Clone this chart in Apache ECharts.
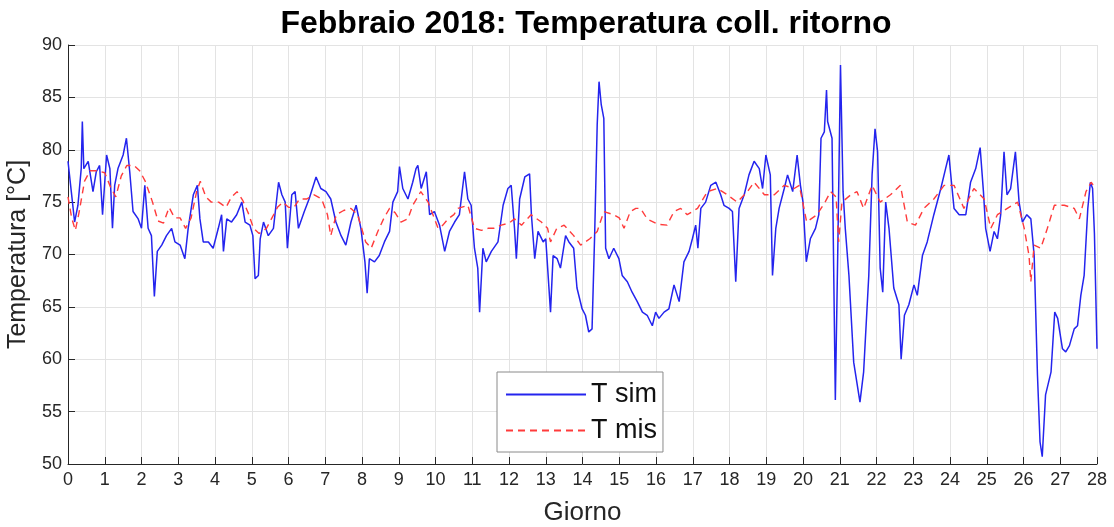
<!DOCTYPE html>
<html>
<head>
<meta charset="utf-8">
<script src="https://cdn.jsdelivr.net/npm/echarts@6/dist/echarts.min.js"></script>
<style>
html,body{margin:0;padding:0;background:#fff;}
#chart{width:1114px;height:527px;}
</style>
</head>
<body>
<div id="chart"></div>
<script>
// T sim (blue solid)
const simDay = [0,0.09,0.18,0.27,0.36,0.39,0.43,0.55,0.68,0.77,0.86,0.94,1.05,1.14,1.21,1.27,1.36,1.5,1.59,1.68,1.77,1.91,2.0,2.09,2.18,2.27,2.35,2.43,2.55,2.68,2.82,2.91,3.05,3.18,3.27,3.41,3.52,3.59,3.68,3.82,3.95,4.09,4.18,4.23,4.32,4.45,4.59,4.73,4.82,4.95,5.03,5.09,5.18,5.23,5.32,5.45,5.59,5.73,5.82,5.91,5.97,6.09,6.18,6.27,6.43,6.56,6.75,6.88,7.02,7.15,7.29,7.43,7.56,7.7,7.84,7.97,8.08,8.14,8.2,8.34,8.47,8.61,8.75,8.84,8.97,9.02,9.11,9.25,9.38,9.47,9.52,9.61,9.75,9.84,9.97,10.11,10.25,10.38,10.52,10.65,10.79,10.88,10.97,11.06,11.15,11.2,11.29,11.38,11.52,11.7,11.84,11.97,12.06,12.15,12.2,12.29,12.43,12.56,12.61,12.7,12.79,12.93,13.0,13.13,13.2,13.31,13.4,13.54,13.63,13.76,13.85,13.99,14.08,14.17,14.26,14.33,14.4,14.45,14.51,14.58,14.63,14.72,14.85,14.99,15.08,15.22,15.35,15.49,15.63,15.76,15.9,15.99,16.08,16.22,16.35,16.49,16.63,16.76,16.9,16.99,17.08,17.14,17.22,17.35,17.49,17.63,17.76,17.85,17.99,18.08,18.17,18.26,18.4,18.53,18.67,18.81,18.9,18.99,19.11,19.17,19.26,19.35,19.49,19.58,19.72,19.84,19.93,20.0,20.09,20.2,20.34,20.43,20.49,20.58,20.64,20.67,20.79,20.88,20.95,21.02,21.09,21.15,21.25,21.38,21.55,21.65,21.79,21.88,21.96,22.03,22.1,22.17,22.25,22.34,22.47,22.61,22.67,22.76,22.88,23.02,23.11,23.25,23.38,23.56,23.75,23.88,23.97,24.04,24.11,24.25,24.43,24.56,24.7,24.82,24.91,24.97,25.09,25.2,25.29,25.38,25.47,25.55,25.65,25.78,25.88,25.97,26.09,26.2,26.29,26.38,26.45,26.51,26.6,26.75,26.85,26.93,27.06,27.15,27.25,27.38,27.47,27.56,27.65,27.75,27.82,27.88,27.93,28.0];
const simTemp = [78.9,76,73.1,74.7,78.2,82.7,78.2,78.9,76,77.9,78.5,73.8,79.5,78.2,72.5,76.6,78.2,79.5,81.1,77.9,74.1,73.4,72.5,76.6,72.5,71.8,66,70.3,70.9,71.8,72.5,71.2,70.9,69.6,72.5,75.7,76.6,73.4,71.2,71.2,70.6,72.5,73.8,70.3,73.4,73.1,73.8,75,73.1,72.8,71.8,67.7,68,71.5,73.1,71.8,72.5,76.9,75.7,75,70.6,75.7,76,72.5,74.1,75.3,77.4,76.3,76,75.3,73.1,71.8,70.9,73.1,74.7,72.5,69.3,66.3,69.6,69.3,69.9,71.2,72.2,75,76,78.4,76.3,75.3,76.9,78.2,78.5,76.3,77.9,73.8,74.1,72.8,70.3,72.2,73.1,73.8,77.9,75.3,74.7,70.6,68.7,64.5,70.6,69.3,70.3,71.2,74.7,76.3,76.6,72.5,69.6,75.3,77.4,77.7,73.8,69.6,72.2,71.2,71.5,64.5,69.9,69.6,68.7,71.8,71.2,70.6,66.8,64.8,64.2,62.6,62.9,71.8,82.4,86.5,84.3,83,70.6,69.6,70.6,69.6,68,67.4,66.4,65.5,64.5,64.2,63.2,64.5,63.9,64.5,64.8,67.1,65.5,69.3,70.3,71.5,72.8,70.6,74.4,75,76.6,76.9,75.7,74.7,74.4,74.1,67.4,74.4,75.7,77.6,78.9,78.2,76.3,79.5,77.6,68,72.5,74.4,76.3,77.6,76,79.5,76.6,75,69.3,71.5,72.5,73.8,81.1,81.7,85.7,82.7,81.1,56.1,71.2,88.1,76,72.5,68,59.7,55.9,58.8,68,77.6,82,79.8,68.7,66.4,75,72.5,66.8,65.2,60,64.2,65.2,67.1,66.1,69.9,71.2,73.8,76.3,78.2,79.5,76.9,74.4,73.8,73.8,76.9,78.2,80.2,76,72.5,70.3,72.2,71.5,73.8,79.8,75.7,76.3,79.8,75,73.1,73.8,73.4,69.9,58.5,52.1,50.7,56.6,58.8,64.5,63.9,61,60.7,61.3,62.9,63.2,66.1,68,74.4,76.9,76.3,72,61];

// T mis (red dashed)
const misDay = [0,0.1,0.2,0.3,0.45,0.6,0.8,1.0,1.15,1.3,1.45,1.6,1.8,1.95,2.1,2.3,2.45,2.6,2.75,2.9,3.05,3.2,3.35,3.5,3.6,3.75,3.9,4.1,4.3,4.45,4.6,4.75,4.9,5.05,5.2,5.4,5.55,5.7,5.85,6.0,6.15,6.3,6.5,6.7,6.9,7.06,7.15,7.3,7.5,7.7,7.88,8.1,8.25,8.43,8.6,8.75,8.9,9.06,9.25,9.38,9.6,9.8,10.07,10.2,10.34,10.5,10.61,10.88,11.06,11.25,11.43,11.6,11.79,12.0,12.15,12.34,12.6,12.88,13.05,13.13,13.3,13.5,13.76,13.95,14.2,14.4,14.58,14.85,15.0,15.13,15.3,15.45,15.58,15.76,16.04,16.3,16.49,16.67,16.85,17.13,17.4,17.67,17.94,18.21,18.49,18.67,18.95,19.22,19.49,19.76,19.9,20.1,20.38,20.6,20.75,20.9,20.97,21.06,21.3,21.47,21.65,21.88,22.1,22.38,22.65,22.84,23.06,23.29,23.56,23.84,24.11,24.38,24.65,24.93,25.11,25.29,25.56,25.84,26.02,26.15,26.2,26.29,26.47,26.65,26.84,27.11,27.38,27.52,27.7,27.84,27.97];
const misTemp = [75.5,73.5,72.3,74,77,78,78,77.8,76.5,75.5,77.5,78.5,78.5,78,77,75,73.2,73,74.5,73.5,73.5,72.5,73.5,76,77,75.5,75,75,74.5,75.5,76,75.2,74,72.5,72,72.5,73.5,74.5,75,74.5,74.5,75.3,75.3,75.7,75.3,73.8,71.8,73.8,74.2,74.4,73.8,71.2,70.6,72.2,73.5,74.4,74,73.1,73.4,74.7,76,75,72.5,72.8,73.4,73.8,74.4,74.7,72.5,72.3,72.5,72.5,72.8,73,73.4,72.8,73.8,73.1,72.5,71.2,72.5,72.8,71.8,70.9,71.5,72.2,74.1,73.8,73.5,72.5,74.1,74.4,74.4,73.4,72.9,72.8,74.1,74.4,73.8,74.4,76,76.3,75.7,75,76,76.9,75.7,75.7,76.6,76.3,76.6,73.1,73.8,75,76,75.5,71.2,75,75.7,76,74.4,76.6,75,75.7,76.6,73.1,72.8,74.4,75.3,76.6,76.6,74.4,76.3,75.3,72.5,73.8,74.4,75,72.5,69.9,67.4,70.9,70.6,72.5,74.7,74.7,74.4,73.4,76,76.9,76.3];

const xTicks = {min: 0, max: 28, step: 1};
const yTicks = {min: 50, max: 90, step: 5};

const simData = simDay.map((d, i) => [d, simTemp[i]]);
const misData = misDay.map((d, i) => [d, misTemp[i]]);

const FONT = '"Liberation Sans", Arial, Helvetica, sans-serif';
const chart = echarts.init(document.getElementById('chart'), null, {renderer: 'canvas'});
chart.setOption({
  animation: false,
  backgroundColor: '#ffffff',
  title: {
    text: 'Febbraio 2018: Temperatura coll. ritorno',
    left: 581, textAlign: 'center', top: 3,
    textStyle: {fontFamily: FONT, fontSize: 32, fontWeight: 'bold', color: '#000'}
  },
  grid: {left: 68, right: 17, top: 45, bottom: 63, containLabel: false, outerBoundsMode: 'none'},
  legend: {
    orient: 'vertical', left: 497, top: 372,
    itemWidth: 80, itemHeight: 14, itemGap: 9,
    padding: [9, 6, 8, 8],
    backgroundColor: '#fff', borderColor: '#8a8a8a', borderWidth: 1,
    itemStyle: {opacity: 0},
    textStyle: {fontFamily: FONT, fontSize: 27, color: '#111'},
    data: ['T sim', 'T mis']
  },
  xAxis: {
    type: 'value', min: xTicks.min, max: xTicks.max, interval: xTicks.step,
    name: 'Giorno', nameLocation: 'middle', nameGap: 36,
    nameTextStyle: {fontFamily: FONT, fontSize: 26, color: '#262626'},
    axisLine: {show: true, lineStyle: {color: '#262626', width: 1}},
    axisTick: {show: true, inside: true, length: 7, lineStyle: {color: '#262626'}},
    axisLabel: {fontFamily: FONT, fontSize: 18, color: '#262626', margin: 7},
    splitLine: {show: true, lineStyle: {color: '#e3e3e3', width: 1}}
  },
  yAxis: {
    type: 'value', min: yTicks.min, max: yTicks.max, interval: yTicks.step,
    name: 'Temperatura [°C]', nameLocation: 'middle', nameGap: 34, nameRotate: 90,
    nameTextStyle: {fontFamily: FONT, fontSize: 25, color: '#262626'},
    axisLine: {show: true, lineStyle: {color: '#262626', width: 1}},
    axisTick: {show: true, inside: true, length: 7, lineStyle: {color: '#262626'}},
    axisLabel: {fontFamily: FONT, fontSize: 18, color: '#262626', margin: 6},
    splitLine: {show: true, lineStyle: {color: '#e3e3e3', width: 1}}
  },
  series: [
    {
      name: 'T sim', type: 'line', data: simData, symbol: 'none',
      lineStyle: {color: '#2424ee', width: 1.5}, itemStyle: {color: '#2424ee'}
    },
    {
      name: 'T mis', type: 'line', data: misData, symbol: 'none',
      lineStyle: {color: '#ff3b3b', width: 1.4, type: [7, 5]}, itemStyle: {color: '#ff3b3b'}
    }
  ]
});
</script>
</body>
</html>
